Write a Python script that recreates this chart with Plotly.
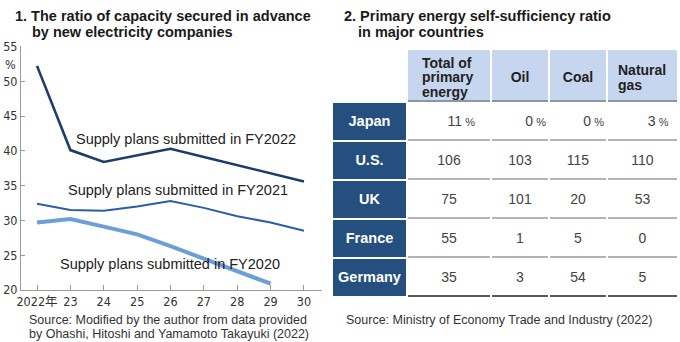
import plotly.graph_objects as go

# ---------------- data: left chart ----------------
years = [2022, 2023, 2024, 2025, 2026, 2027, 2028, 2029, 2030]
year_labels = ["2022年", "23", "24", "25", "26", "27", "28", "29", "30"]
fy2022 = [52.2, 40.1, 38.4, 39.4, 40.3, 39.1, 37.9, 36.8, 35.6]
fy2021 = [32.4, 31.5, 31.4, 32.0, 32.8, 31.8, 30.6, 29.7, 28.5]
fy2020 = [29.7, 30.2, 29.1, 28.0, 26.3, 24.5, 22.6, 20.9, None]
series_names = ["Supply plans submitted in FY2022",
                "Supply plans submitted in FY2021",
                "Supply plans submitted in FY2020"]

# ---------------- data: right table ----------------
countries = ["Japan", "U.S.", "UK", "France", "Germany"]
header_lines = [["Total of", "primary", "energy"], ["Oil"], ["Coal"], ["Natural", "gas"]]
total_primary = [11, 106, 75, 55, 35]
oil = [0, 103, 101, 1, 3]
coal = [0, 115, 20, 5, 54]
natural_gas = [3, 110, 53, 0, 5]

W, H = 680, 342
FONT = "Liberation Sans, Arial, Helvetica, sans-serif"
NARROW = "Liberation Sans Narrow, Arial Narrow, DejaVu Sans Condensed, Liberation Sans, Noto Sans CJK JP, sans-serif"


def px(x):
    return x / W


def py(y):
    return 1 - y / H


fig = go.Figure()

# ---------------- left line chart ----------------
line_styles = [("#1f3d6b", 2.6), ("#2b5ea5", 2.0), ("#6b9fd8", 4.0)]
for vals, name, (col, wdt) in zip([fy2022, fy2021, fy2020], series_names, line_styles):
    fig.add_trace(go.Scatter(x=years, y=vals, mode="lines", name=name,
                             line=dict(color=col, width=wdt),
                             xaxis="x", yaxis="y", showlegend=False))

label_pos = [(2026.46, 41.7), (2026.22, 34.4), (2025.98, 23.7)]
for name, (lx, ly) in zip(series_names, label_pos):
    fig.add_annotation(x=lx, y=ly, xref="x", yref="y", text=name, showarrow=False,
                       font=dict(family=FONT, size=14.5, color="#222222"))

# ---------------- right table (drawn on a pixel-unit cartesian subplot) ----------------
col_left = [333, 408, 492, 550, 608]
col_right = [406, 490, 548, 606, 677]
col_center = [(a + b) / 2 for a, b in zip(col_left, col_right)]
col_width = [b - a for a, b in zip(col_left, col_right)]
header_top, header_bottom, row_h = 50, 102, 39
row_top = [header_bottom + i * row_h for i in range(len(countries))]
row_mid = [t + row_h / 2 + 0.5 for t in row_top]

# header cells
fig.add_trace(go.Bar(x=col_center[1:], y=[header_bottom - header_top] * 4,
                     base=[header_top] * 4, width=col_width[1:],
                     marker=dict(color="#c6d6ef", line=dict(width=0)),
                     xaxis="x2", yaxis="y2", showlegend=False, hoverinfo="skip"))
fig.add_trace(go.Bar(x=col_center[1:], y=[2] * 4, base=[header_bottom - 2] * 4,
                     width=col_width[1:],
                     marker=dict(color="#8f96a3", line=dict(width=0)),
                     xaxis="x2", yaxis="y2", showlegend=False, hoverinfo="skip"))
# row label cells
fig.add_trace(go.Bar(x=[col_center[0]] * len(countries), y=[row_h - 2] * len(countries),
                     base=[t + 1 for t in row_top], width=[col_width[0]] * len(countries),
                     marker=dict(color="#254f7f", line=dict(width=0)),
                     xaxis="x2", yaxis="y2", showlegend=False, hoverinfo="skip"))
# row underlines
ux, ub, uc, uw = [], [], [], []
for i, t in enumerate(row_top):
    for c in range(1, 5):
        ux.append(col_center[c])
        ub.append(t + row_h - 2)
        uw.append(col_width[c])
        uc.append("#5a5a5a" if i == len(countries) - 1 else "#b4b4b4")
fig.add_trace(go.Bar(x=ux, y=[2] * len(ux), base=ub, width=uw,
                     marker=dict(color=uc, line=dict(width=0)),
                     xaxis="x2", yaxis="y2", showlegend=False, hoverinfo="skip"))

# row label text
fig.add_trace(go.Scatter(x=[col_center[0]] * len(countries), y=row_mid, mode="text",
                         text=[f"<b>{c}</b>" for c in countries],
                         textfont=dict(family=FONT, size=14.5, color="white"),
                         xaxis="x2", yaxis="y2", showlegend=False, cliponaxis=False, hoverinfo="skip"))

# values
columns = [total_primary, oil, coal, natural_gas]
for c, vals in enumerate(columns, start=1):
    # Japan row with % sign
    fig.add_trace(go.Scatter(x=[col_center[c] + 26], y=[row_mid[0]], mode="text",
                             text=[f"{vals[0]}<span style='font-size:11px'> %</span>"],
                             textposition="middle left",
                             textfont=dict(family=FONT, size=14, color="#444444"),
                             xaxis="x2", yaxis="y2", showlegend=False, cliponaxis=False, hoverinfo="skip"))
    fig.add_trace(go.Scatter(x=[col_center[c]] * (len(countries) - 1), y=row_mid[1:], mode="text",
                             text=[str(v) for v in vals[1:]],
                             textfont=dict(family=FONT, size=14, color="#444444"),
                             xaxis="x2", yaxis="y2", showlegend=False, cliponaxis=False, hoverinfo="skip"))

# header text (one annotation per line, tight line spacing)
block_w = [54, 40, 40, 50]
for c, lines in enumerate(header_lines, start=1):
    n = len(lines)
    for k, ln in enumerate(lines):
        yy = 77.5 + (k - (n - 1) / 2) * 14.5
        fig.add_annotation(x=col_center[c], y=yy, xref="x2", yref="y2", text=f"<b>{ln}</b>",
                           showarrow=False, width=block_w[c - 1],
                           xanchor="center", yanchor="middle",
                           align="left" if n > 1 else "center",
                           font=dict(family=FONT, size=14, color="#222222"))

# ---------------- titles and sources ----------------
texts = [
    ("<b>1. The ratio of capacity secured in advance</b>", 13, 16, 14.5, "#1a1a1a"),
    ("<b>by new electricity companies</b>", 30, 32, 14.5, "#1a1a1a"),
    ("<b>2. Primary energy self-sufficiency ratio</b>", 342, 16, 14.5, "#1a1a1a"),
    ("<b>in major countries</b>", 356, 32, 14.5, "#1a1a1a"),
    ("Source: Modified by the author from data provided", 27, 320, 12.5, "#333333"),
    ("by Ohashi, Hitoshi and Yamamoto Takayuki (2022)", 27, 334, 12.5, "#333333"),
    ("Source: Ministry of Economy Trade and Industry (2022)", 344, 320, 12.5, "#333333"),
]
for t, x, y, s, col in texts:
    fig.add_annotation(x=px(x), y=py(y), xref="paper", yref="paper", text=t, showarrow=False,
                       xanchor="left", yanchor="middle",
                       font=dict(family=FONT, size=s, color=col))

fig.add_annotation(x=px(10), y=py(64), xref="paper", yref="paper", text="%", showarrow=False,
                   xanchor="center", yanchor="middle",
                   font=dict(family=NARROW, size=12.5, color="#333333"))

axis_col = "#9a9a9a"
fig.update_layout(
    width=W, height=H, margin=dict(l=0, r=0, t=0, b=0, autoexpand=False),
    paper_bgcolor="white", plot_bgcolor="rgba(0,0,0,0)",
    barmode="overlay", bargap=0,
    xaxis=dict(domain=[px(21), px(322)], range=[2021.52, 2030.54], automargin=False,
               tickvals=years, ticktext=year_labels, ticks="inside", ticklen=5,
               tickcolor=axis_col, showline=True, linecolor=axis_col, linewidth=1,
               showgrid=False, zeroline=False,
               tickfont=dict(family=NARROW, size=12.5, color="#333333")),
    yaxis=dict(domain=[py(290), py(46.4)], range=[20, 55], dtick=5, tick0=20, automargin=False,
               ticks="inside", ticklen=4, tickcolor=axis_col,
               showline=True, linecolor=axis_col, linewidth=1,
               showgrid=False, zeroline=False,
               tickfont=dict(family=NARROW, size=12.5, color="#333333")),
    xaxis2=dict(domain=[px(333), px(677)], range=[333, 677], visible=False, anchor="y2",
                automargin=False),
    yaxis2=dict(domain=[py(297), py(50)], range=[297, 50], visible=False, anchor="x2",
                automargin=False),
)

fig.write_html("out.html")
